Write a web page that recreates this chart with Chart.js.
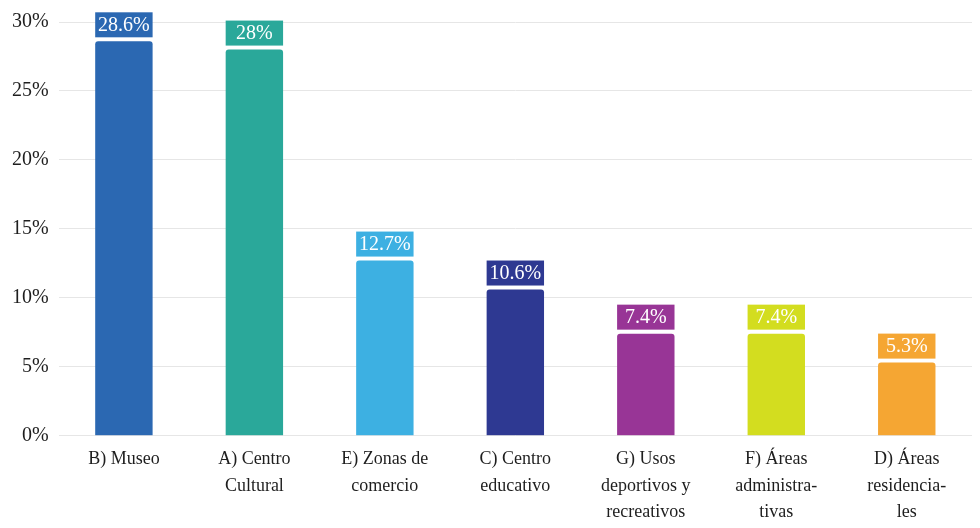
<!DOCTYPE html>
<html>
<head>
<meta charset="utf-8">
<script src="https://cdn.jsdelivr.net/npm/chart.js@4/dist/chart.umd.min.js"></script>
<style>
  html, body { margin: 0; padding: 0; background: #fff; }
  #wrap { width: 980px; height: 528px; }
</style>
</head>
<body>
<div id="wrap"><canvas id="chart"></canvas></div>
<script>
  // Data
  const categories = [
    'B) Museo',
    ['A) Centro', 'Cultural'],
    ['E) Zonas de', 'comercio'],
    ['C) Centro', 'educativo'],
    ['G) Usos', 'deportivos y', 'recreativos'],
    ['F) Áreas', 'administra-', 'tivas'],
    ['D) Áreas', 'residencia-', 'les']
  ];
  const values = [28.6, 28, 12.7, 10.6, 7.4, 7.4, 5.3];
  const valueLabels = ['28.6%', '28%', '12.7%', '10.6%', '7.4%', '7.4%', '5.3%'];
  const barColors = ['#2b68b2', '#2aa89a', '#3db0e2', '#2e3992', '#983596', '#d3dd1f', '#f5a633'];

  const serif = "'Liberation Serif', 'DejaVu Serif', serif";

  // Draws the coloured value boxes above each bar
  const valueBoxes = {
    id: 'valueBoxes',
    afterDatasetsDraw(chart) {
      const ctx = chart.ctx;
      const meta = chart.getDatasetMeta(0);
      ctx.save();
      ctx.font = '20px ' + serif;
      ctx.textAlign = 'center';
      ctx.textBaseline = 'middle';
      meta.data.forEach((bar, i) => {
        const w = bar.width;
        const h = 25;
        const bottom = bar.y - 4;
        ctx.fillStyle = barColors[i];
        ctx.fillRect(bar.x - w / 2, bottom - h, w, h);
        ctx.fillStyle = '#ffffff';
        ctx.fillText(valueLabels[i], bar.x, bottom - h / 2 + 1);
      });
      ctx.restore();
    }
  };

  new Chart(document.getElementById('chart'), {
    type: 'bar',
    data: {
      labels: categories,
      datasets: [{
        data: values,
        backgroundColor: barColors,
        borderRadius: 3,
        borderSkipped: 'bottom'
      }]
    },
    options: {
      responsive: true,
      maintainAspectRatio: false,
      animation: false,
      layout: { padding: { top: 22, right: 8, left: 2, bottom: 0 } },
      categoryPercentage: 0.88,
      barPercentage: 0.5,
      plugins: {
        legend: { display: false },
        tooltip: { enabled: false }
      },
      scales: {
        y: {
          min: 0,
          max: 30,
          border: { display: false },
          grid: { color: '#e6e6e6', drawTicks: false },
          ticks: {
            stepSize: 5,
            padding: 10,
            color: '#1e1e1e',
            font: { family: serif, size: 20 },
            callback: v => v + '%'
          }
        },
        x: {
          border: { display: false },
          grid: { display: false },
          ticks: {
            color: '#1e1e1e',
            padding: 3,
            maxRotation: 0,
            autoSkip: false,
            font: { family: serif, size: 18, lineHeight: 1.45 }
          }
        }
      }
    },
    plugins: [valueBoxes]
  });
</script>
</body>
</html>
